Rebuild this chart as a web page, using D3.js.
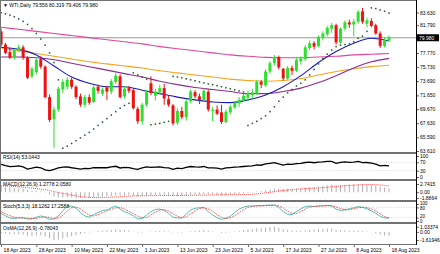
<!DOCTYPE html>
<html>
<head>
<meta charset="utf-8">
<script src="https://cdn.jsdelivr.net/npm/d3@7"></script>
<style>
  body { margin: 0; background: #fff; }
  svg text { font-family: "Liberation Sans", Arial, sans-serif; }
</style>
</head>
<body>
<div id="chart"></div>
<script>
// Trading days shown on the chart
const dates = [
  "2023-04-18","2023-04-19","2023-04-20","2023-04-21","2023-04-24","2023-04-25","2023-04-26","2023-04-27","2023-04-28",
  "2023-05-01","2023-05-02","2023-05-03","2023-05-04","2023-05-05","2023-05-08","2023-05-09","2023-05-10","2023-05-11",
  "2023-05-12","2023-05-15","2023-05-16","2023-05-17","2023-05-18","2023-05-19","2023-05-22","2023-05-23","2023-05-24",
  "2023-05-25","2023-05-26","2023-05-29","2023-05-30","2023-05-31",
  "2023-06-01","2023-06-02","2023-06-05","2023-06-06","2023-06-07","2023-06-08","2023-06-09","2023-06-12","2023-06-13",
  "2023-06-14","2023-06-15","2023-06-16","2023-06-19","2023-06-20","2023-06-21","2023-06-22","2023-06-23","2023-06-26",
  "2023-06-27","2023-06-28","2023-06-29","2023-06-30",
  "2023-07-03","2023-07-04","2023-07-05","2023-07-06","2023-07-07","2023-07-10","2023-07-11","2023-07-12","2023-07-13",
  "2023-07-14","2023-07-17","2023-07-18","2023-07-19","2023-07-20","2023-07-21","2023-07-24","2023-07-25","2023-07-26",
  "2023-07-27","2023-07-28","2023-07-31",
  "2023-08-01","2023-08-02","2023-08-03","2023-08-04","2023-08-07","2023-08-08","2023-08-09","2023-08-10","2023-08-11",
  "2023-08-14","2023-08-15","2023-08-16","2023-08-17","2023-08-18"
];

const open = [80.9,79.0,77.9,77.1,78.2,78.6,77.1,74.4,75.0,76.9,
  75.8,71.4,68.2,69.6,72.5,72.9,73.9,72.9,71.5,70.3,
  71.4,70.7,72.9,71.9,72.8,72.2,73.6,74.4,71.5,72.7,
  72.4,69.7,67.9,70.3,73.4,71.6,72.1,72.7,71.1,70.2,
  67.7,69.4,68.5,70.8,72.1,71.5,71.0,72.2,69.4,69.6,
  69.2,67.8,69.2,69.9,70.5,70.9,71.3,71.7,71.9,73.6,
  73.1,75.1,76.3,77.2,75.5,74.1,75.6,75.2,76.6,76.9,
  78.5,79.2,78.8,80.0,80.5,81.3,81.8,79.3,81.3,82.2,
  81.9,82.3,83.8,82.0,82.4,81.8,80.6,78.8,79.556];
const high = [81.3,79.2,78.5,78.4,79.0,78.9,77.3,75.8,77.0,77.3,
  76.0,71.8,70.0,72.9,74.0,74.3,74.2,73.1,71.9,71.7,
  71.8,73.1,73.2,72.8,73.0,74.0,74.9,74.7,73.0,73.0,
  72.7,70.0,70.6,72.4,74.4,72.6,73.2,73.3,71.6,70.4,
  69.8,70.0,71.0,72.5,72.4,71.9,72.7,72.4,70.0,70.2,
  70.3,69.6,70.3,70.8,71.4,71.9,72.3,72.6,73.9,73.9,
  75.4,76.6,77.5,77.4,75.6,75.9,76.0,77.1,77.3,78.9,
  79.6,79.5,80.3,80.9,81.7,82.1,82.0,81.5,82.5,82.6,
  82.7,84.0,84.3,82.9,82.8,82.0,80.9,80.1,80.319];
const low = [78.7,77.6,76.9,76.8,77.9,76.8,74.0,74.1,74.7,75.5,
  71.2,67.8,64.0,69.3,72.0,72.5,72.6,71.1,70.0,69.9,
  70.3,70.5,71.9,71.6,71.0,71.8,73.3,71.2,71.2,72.0,
  69.6,67.5,67.4,70.0,71.7,70.9,71.8,70.3,70.0,67.3,
  67.4,68.2,68.0,70.5,71.2,70.4,70.8,69.3,67.9,68.8,
  67.5,67.6,68.9,69.7,70.0,70.7,70.8,71.2,71.7,72.7,
  72.9,74.8,76.0,75.4,73.8,73.9,74.6,75.0,76.1,76.6,
  78.2,78.3,78.6,79.6,80.2,80.7,79.0,79.1,81.0,81.4,
  80.2,82.0,82.0,81.5,81.5,80.4,78.5,78.6,79.406];
const close = [79.0,77.8,77.1,78.2,78.6,77.1,74.2,75.5,76.8,75.8,
  71.4,68.1,69.6,72.6,73.6,73.9,72.9,71.4,70.3,71.4,
  70.6,72.8,72.3,72.5,72.2,73.7,74.5,71.4,72.6,72.3,
  69.8,67.9,70.3,72.1,72.0,72.2,72.7,71.2,70.3,67.6,
  69.4,68.5,70.8,72.2,71.5,71.0,72.3,69.6,69.6,69.0,
  67.8,69.3,70.0,70.6,71.0,71.6,72.0,72.1,73.6,73.2,
  75.1,76.3,77.2,75.7,74.1,75.6,75.2,76.8,77.0,78.6,
  79.2,78.7,80.1,80.6,81.4,81.8,79.3,81.3,82.2,81.9,
  82.3,83.7,82.3,82.5,81.7,80.6,78.8,79.6,79.98];

// Parabolic SAR dots
const sar = [83.6,83.45,83.25,83.0,82.7,82.35,81.9,81.3,80.6,79.8,
  78.9,77.8,76.4,73.9,64.0,64.3,64.7,65.1,65.5,65.9,
  66.3,66.8,67.3,67.8,68.3,68.8,69.3,69.8,70.2,70.5,
  74.9,74.6,74.3,74.0,67.4,67.5,67.6,67.75,67.9,74.4,
  74.3,74.2,74.05,73.9,73.75,73.6,73.45,73.3,73.2,73.05,
  72.9,72.75,72.6,72.45,72.3,72.15,67.3,67.6,67.9,68.3,
  68.7,69.3,70.0,70.8,71.4,72.0,72.5,73.0,73.4,73.9,
  74.6,75.4,76.2,77.0,77.6,78.2,78.7,78.9,79.0,79.1,
  79.4,79.9,80.2,80.9,84.3,84.2,84.0,83.8,83.55];

// Moving averages, read every fourth bar
const maDates = ["2023-04-18","2023-04-24","2023-04-28","2023-05-04","2023-05-10","2023-05-16","2023-05-22","2023-05-26",
  "2023-06-01","2023-06-07","2023-06-13","2023-06-19","2023-06-23","2023-06-29","2023-07-05","2023-07-11","2023-07-17",
  "2023-07-21","2023-07-27","2023-08-02","2023-08-08","2023-08-14","2023-08-18"];
const maBlue = [78.6,78.3,77.5,75.9,74.3,73.4,72.9,72.9,72.4,71.9,71.4,71.0,70.7,70.6,71.0,71.7,72.9,74.5,76.4,78.0,79.2,79.9,79.5];
const maPurple = [77.2,77.2,77.1,76.8,76.3,75.8,75.3,74.8,74.3,73.7,73.2,72.8,72.5,72.2,71.9,71.9,72.2,72.7,73.5,74.5,75.6,76.5,77.0];
const maOrange = [78.5,78.1,77.7,77.3,76.9,76.5,76.2,75.9,75.6,75.2,74.9,74.6,74.3,74.0,73.8,73.7,73.8,74.1,74.6,75.1,75.5,75.8,76.0];
const maPink = [81.5,81.2,80.9,80.6,80.3,80.0,79.7,79.4,79.1,78.7,78.4,78.1,77.8,77.5,77.3,77.15,77.1,77.1,77.2,77.3,77.5,77.6,77.7];

const rsi = [60,54,49,51,53,48,38,42,47,44,
  34,30,36,43,47,48,44,41,38,41,
  40,45,44,45,44,48,51,43,46,45,
  40,36,43,48,46,47,48,45,43,36,
  42,40,46,50,48,47,50,43,43,42,
  38,43,45,47,48,50,52,53,58,56,
  62,65,68,62,57,61,60,64,65,69,
  71,68,71,72,74,74,65,70,72,70,
  71,74,68,69,66,61,53,55,53.0443];

const macdMain = [1.90,1.75,1.55,1.40,1.30,1.10,0.75,0.50,0.45,0.30,
  -0.10,-0.70,-1.40,-1.65,-1.72,-1.75,-1.78,-1.84,-1.8864,-1.85,
  -1.85,-1.70,-1.58,-1.50,-1.40,-1.25,-1.05,-1.10,-1.05,-1.00,
  -1.15,-1.35,-1.30,-1.15,-1.05,-0.98,-0.90,-0.92,-1.00,-1.20,
  -1.20,-1.22,-1.08,-0.90,-0.80,-0.75,-0.60,-0.70,-0.80,-0.88,
  -1.02,-0.98,-0.88,-0.76,-0.60,-0.44,-0.27,-0.10,0.18,0.35,
  0.62,0.95,1.22,1.20,1.12,1.15,1.14,1.22,1.32,1.50,
  1.70,1.80,1.95,2.10,2.30,2.45,2.35,2.40,2.50,2.55,
  2.60,2.7415,2.70,2.62,2.50,2.25,1.85,1.55,1.2778];
const macdSignal = [2.10,2.05,1.97,1.88,1.78,1.66,1.52,1.36,1.19,1.01,
  0.81,0.56,0.24,-0.08,-0.40,-0.67,-0.93,-1.18,-1.43,-1.62,
  -1.75,-1.78,-1.77,-1.75,-1.71,-1.65,-1.56,-1.48,-1.39,-1.29,
  -1.23,-1.21,-1.18,-1.16,-1.13,-1.13,-1.10,-1.09,-1.09,-1.09,
  -1.08,-1.07,-1.06,-1.04,-1.02,-1.01,-0.97,-0.94,-0.89,-0.86,
  -0.84,-0.83,-0.82,-0.82,-0.80,-0.78,-0.74,-0.66,-0.54,-0.39,
  -0.21,-0.01,0.21,0.41,0.59,0.74,0.88,1.00,1.10,1.20,
  1.29,1.35,1.43,1.54,1.67,1.82,1.94,2.06,2.17,2.27,
  2.36,2.44,2.51,2.55,2.55,2.52,2.42,2.27,2.058];

const stochMain = [45,30,18,15,20,18,12,12,22,30,
  22,10,12,30,60,85,88,75,50,30,
  22,38,50,62,65,78,88,70,55,45,
  30,12,15,35,55,68,70,62,45,22,
  18,18,40,65,75,78,80,55,35,20,
  10,15,28,50,70,82,88,88,90,90,
  92,93,94,80,55,40,38,55,72,85,
  88,85,88,90,92,88,70,62,65,72,
  78,85,80,72,60,45,28,18,18.1262];
const stochSignal = [55,42,31,21,18,18,17,14,15,21,
  25,21,15,17,34,58,78,83,71,52,
  34,30,37,50,59,68,77,79,71,57,
  43,29,19,21,35,53,64,67,59,43,
  28,19,25,41,60,73,78,71,57,37,
  22,15,18,31,49,67,80,86,89,89,
  91,92,93,89,76,58,44,44,55,71,
  82,86,87,88,90,90,83,73,66,66,
  72,78,81,79,71,59,42,26,17.2588];

const osma = [-0.20,-0.30,-0.42,-0.48,-0.48,-0.56,-0.77,-0.86,-0.74,-0.71,
  -0.91,-1.26,-1.61946,-1.57,-1.32,-1.08,-0.85,-0.66,-0.46,-0.23,
  -0.10,0.08,0.19,0.25,0.31,0.40,0.51,0.38,0.34,0.29,
  0.08,-0.14,-0.12,0.01,0.08,0.15,0.20,0.17,0.09,-0.11,
  -0.12,-0.15,-0.02,0.14,0.22,0.26,0.37,0.24,0.09,-0.02,
  -0.18,-0.15,-0.06,0.06,0.20,0.34,0.47,0.56,0.72,0.74,
  0.83,0.96,1.03374,0.79,0.53,0.41,0.26,0.22,0.22,0.30,
  0.41,0.45,0.52,0.56,0.63,0.63,0.41,0.34,0.33,0.28,
  0.24,0.30,0.19,0.07,-0.05,-0.27,-0.57,-0.72,-0.78043];

// Axis labels
const tickDates = ["2023-04-18","2023-04-28","2023-05-10","2023-05-22","2023-06-01","2023-06-13",
  "2023-06-23","2023-07-05","2023-07-17","2023-07-27","2023-08-08","2023-08-18"];
const priceTicks = [83.63,81.79,77.77,75.73,73.69,71.65,69.67,67.63,65.59,63.61];
const lastPrice = 79.98;
const rsiTicks = [100,70,30,0];
const macdTicks = [2.7415,0,-1.8864];
const stochTicks = [100,80,20,0];
const osmaTicks = [1.03374,0,-1.61946];

// Layout
const W = 440, H = 254;
const plotR = 416;
const fs = 5;
const panels = {
  price: { top: 1, bottom: 152 },
  rsi:   { top: 154, bottom: 179 },
  macd:  { top: 181, bottom: 200 },
  stoch: { top: 202, bottom: 222 },
  osma:  { top: 224, bottom: 244 }
};

const svg = d3.select("#chart").append("svg")
  .attr("width", W)
  .attr("height", H);

const x = d3.scalePoint().domain(dates).range([1.1, 389]);
const yPrice = d3.scaleLinear().domain([63.61, 83.63]).range([151, 12.5]);
const yRsi = d3.scaleLinear().domain([0, 100]).range([177, 156]);
const yMacd = d3.scaleLinear().domain([-1.8864, 2.7415]).range([197.9, 184]);
const yStoch = d3.scaleLinear().domain([0, 100]).range([221, 204]);
const yOsma = d3.scaleLinear().domain([-1.61946, 1.03374]).range([240, 226.7]);

// Frame: gray background shows through as separators
svg.append("rect").attr("x", 0).attr("y", 0).attr("width", plotR + 1).attr("height", 245).attr("fill", "#727272");
Object.entries(panels).forEach(([k, p]) => {
  svg.append("rect").attr("x", 1).attr("y", p.top).attr("width", plotR - 1).attr("height", p.bottom - p.top).attr("fill", "#fff");
  svg.append("clipPath").attr("id", "clip-" + k)
    .append("rect").attr("x", 1).attr("y", p.top).attr("width", plotR - 1).attr("height", p.bottom - p.top);
});

const gPrice = svg.append("g").attr("clip-path", "url(#clip-price)");

// current price line
gPrice.append("line")
  .attr("x1", 1).attr("x2", plotR)
  .attr("y1", yPrice(lastPrice)).attr("y2", yPrice(lastPrice))
  .attr("stroke", "#808080").attr("stroke-width", 0.8);

// moving averages
const maLine = d3.line()
  .x((d, i) => x(maDates[i]))
  .y(d => yPrice(d))
  .curve(d3.curveMonotoneX);
[[maPink, "#e0479a"], [maOrange, "#f5a21c"], [maPurple, "#8e2b96"], [maBlue, "#1818c0"]].forEach(([vals, col]) => {
  gPrice.append("path").datum(vals)
    .attr("d", maLine)
    .attr("fill", "none")
    .attr("stroke", col)
    .attr("stroke-width", 1.1);
});

// candles
const up = "#2ee02e", down = "#ee1111";
const candles = gPrice.selectAll(".candle")
  .data(dates)
  .enter().append("g")
  .attr("class", "candle");
candles.append("line")
  .attr("x1", d => x(d)).attr("x2", d => x(d))
  .attr("y1", (d, i) => yPrice(high[i]))
  .attr("y2", (d, i) => yPrice(low[i]))
  .attr("stroke", (d, i) => close[i] >= open[i] ? up : down)
  .attr("stroke-width", 1);
candles.append("rect")
  .attr("x", d => x(d) - 1.5)
  .attr("width", 3)
  .attr("y", (d, i) => yPrice(Math.max(open[i], close[i])))
  .attr("height", (d, i) => Math.max(1, Math.abs(yPrice(open[i]) - yPrice(close[i]))))
  .attr("fill", (d, i) => close[i] >= open[i] ? up : down);

// parabolic SAR
gPrice.selectAll(".sar")
  .data(dates)
  .enter().append("rect")
  .attr("class", "sar")
  .attr("x", d => x(d) - 0.75)
  .attr("y", (d, i) => yPrice(sar[i]) - 0.75)
  .attr("width", 1.5).attr("height", 1.5)
  .attr("fill", "#1f5a1f");

// title
svg.append("text")
  .attr("x", 3).attr("y", 6.5)
  .attr("font-size", fs)
  .attr("fill", "#000")
  .text("\u25BC WTI,Daily 79.556 80.319 79.406 79.980");

// RSI
const gRsi = svg.append("g").attr("clip-path", "url(#clip-rsi)");
[70, 30].forEach(v => {
  gRsi.append("line").attr("x1", 1).attr("x2", plotR)
    .attr("y1", yRsi(v)).attr("y2", yRsi(v))
    .attr("stroke", "#b8b8b8").attr("stroke-width", 0.6).attr("stroke-dasharray", "1,1.5");
});
gRsi.append("path").datum(rsi)
  .attr("d", d3.line().x((d, i) => x(dates[i])).y(d => yRsi(d)))
  .attr("fill", "none").attr("stroke", "#000").attr("stroke-width", 1.3);
svg.append("text").attr("x", 3).attr("y", 159).attr("font-size", fs).text("RSI(14) 53.0443");

// MACD
const gMacd = svg.append("g").attr("clip-path", "url(#clip-macd)");
gMacd.selectAll(".mbar")
  .data(dates)
  .enter().append("line")
  .attr("class", "mbar")
  .attr("x1", d => x(d)).attr("x2", d => x(d))
  .attr("y1", yMacd(0))
  .attr("y2", (d, i) => yMacd(macdMain[i]))
  .attr("stroke", "#a8a8a8").attr("stroke-width", 0.9);
gMacd.append("path").datum(macdSignal)
  .attr("d", d3.line().x((d, i) => x(dates[i])).y(d => yMacd(d)))
  .attr("fill", "none").attr("stroke", "#ff2020").attr("stroke-width", 0.8).attr("stroke-dasharray", "1,1");
svg.append("text").attr("x", 3).attr("y", 186).attr("font-size", fs).text("MACD(12,26,9) 1.2778 2.0580");

// Stochastic
const gStoch = svg.append("g").attr("clip-path", "url(#clip-stoch)");
[80, 20].forEach(v => {
  gStoch.append("line").attr("x1", 1).attr("x2", plotR)
    .attr("y1", yStoch(v)).attr("y2", yStoch(v))
    .attr("stroke", "#b8b8b8").attr("stroke-width", 0.6).attr("stroke-dasharray", "1,1.5");
});
gStoch.append("path").datum(stochMain)
  .attr("d", d3.line().x((d, i) => x(dates[i])).y(d => yStoch(d)))
  .attr("fill", "none").attr("stroke", "#3cb8ad").attr("stroke-width", 0.9);
gStoch.append("path").datum(stochSignal)
  .attr("d", d3.line().x((d, i) => x(dates[i])).y(d => yStoch(d)))
  .attr("fill", "none").attr("stroke", "#ff2020").attr("stroke-width", 0.7).attr("stroke-dasharray", "2,1");
svg.append("text").attr("x", 3).attr("y", 208).attr("font-size", fs).text("Stoch(5,3,3) 18.1262 17.2588");

// OsMA
const gOsma = svg.append("g").attr("clip-path", "url(#clip-osma)");
gOsma.selectAll(".obar")
  .data(dates)
  .enter().append("line")
  .attr("class", "obar")
  .attr("x1", d => x(d)).attr("x2", d => x(d))
  .attr("y1", yOsma(0))
  .attr("y2", (d, i) => yOsma(osma[i]))
  .attr("stroke", "#a8a8a8").attr("stroke-width", 0.9);
svg.append("text").attr("x", 3).attr("y", 229.5).attr("font-size", fs).text("OsMA(12,26,9) -0.78043");

// right axes
svg.append("line").attr("x1", plotR + 0.5).attr("x2", plotR + 0.5).attr("y1", 0).attr("y2", 245)
  .attr("stroke", "#000").attr("stroke-width", 1);

function rightAxis(scale, ticks, fmt) {
  const g = svg.append("g")
    .attr("transform", `translate(${plotR + 1},0)`)
    .call(d3.axisRight(scale).tickValues(ticks).tickFormat(fmt).tickSize(2).tickPadding(1));
  g.select(".domain").remove();
  g.selectAll("line").attr("stroke", "#000").attr("stroke-width", 0.6);
  g.selectAll("text").attr("font-size", fs).attr("font-family", "Liberation Sans, Arial, sans-serif").attr("fill", "#000");
  return g;
}
rightAxis(yPrice, priceTicks, d3.format(".3f"));
rightAxis(yRsi, rsiTicks, d => String(d));
rightAxis(yMacd, macdTicks, d => d === 0 ? "0.00" : String(d));
// stochastic levels sit close together: smaller labels, pushed apart a little
rightAxis(yStoch, stochTicks, d => String(d))
  .selectAll("text")
  .attr("font-size", 4.5)
  .attr("dy", d => ({100: 0.85, 80: 2.55, 20: 0.05, 0: 1.75})[d]);
rightAxis(yOsma, osmaTicks, d => d === 0 ? "0.00" : String(d));

// last price box
const lp = yPrice(lastPrice);
svg.append("rect").attr("x", plotR + 1).attr("y", lp - 3.5).attr("width", 22).attr("height", 7).attr("fill", "#000");
svg.append("text").attr("x", plotR + 3).attr("y", lp).attr("dy", "0.35em")
  .attr("font-size", fs).attr("fill", "#fff").text(d3.format(".3f")(lastPrice));

// date axis
const parse = d3.timeParse("%Y-%m-%d");
const fmtDate = d3.timeFormat("%-d %b %Y");
const xAxis = svg.append("g")
  .attr("transform", "translate(0,245)")
  .call(d3.axisBottom(x).tickValues(tickDates).tickFormat(d => fmtDate(parse(d))).tickSize(2).tickPadding(1));
xAxis.select(".domain").remove();
xAxis.selectAll("line").attr("stroke", "#000").attr("stroke-width", 0.6);
xAxis.selectAll("text")
  .attr("font-size", fs)
  .attr("font-family", "Liberation Sans, Arial, sans-serif")
  .attr("fill", "#000")
  .attr("text-anchor", "start")
  .attr("x", 2);
</script>
</body>
</html>
